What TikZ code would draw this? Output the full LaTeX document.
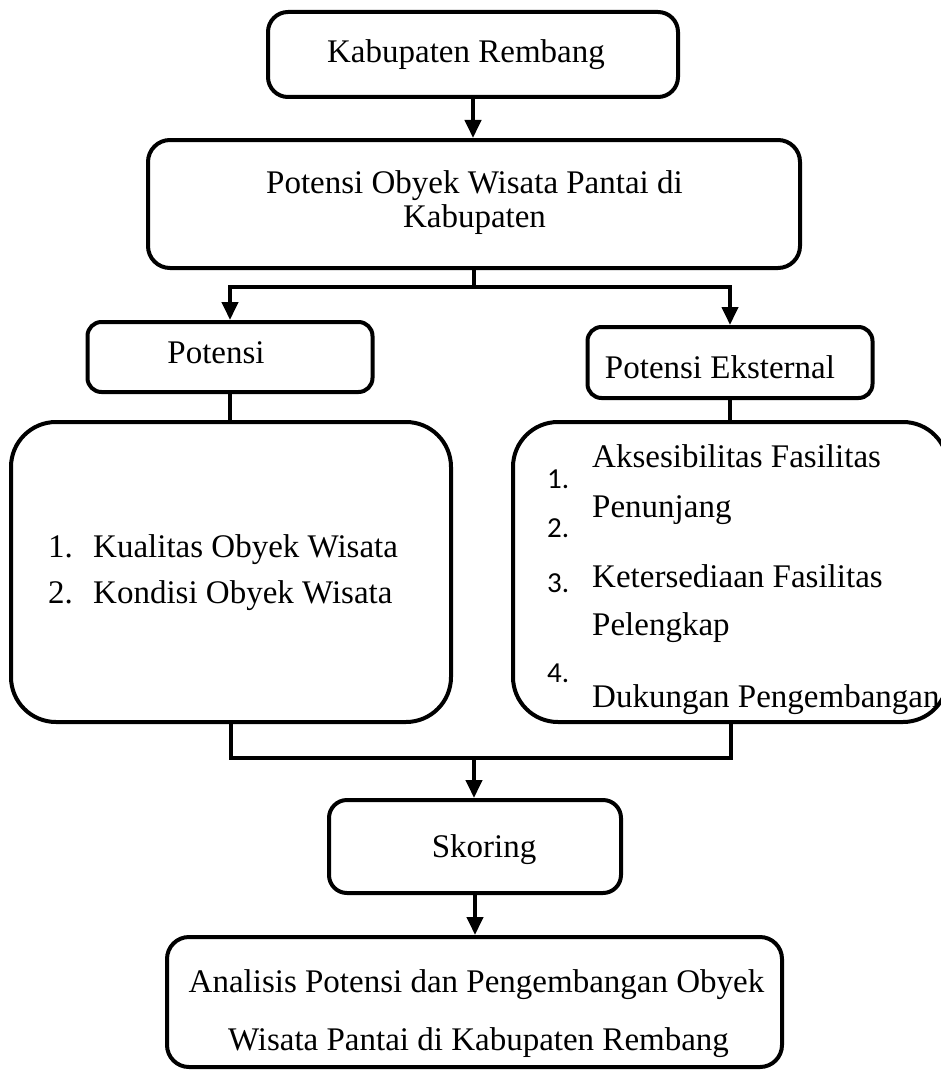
\documentclass[tikz,border=0pt]{standalone}
\usepackage{fontspec}
\setmainfont{Liberation Serif}
\newfontfamily\numfont{Carlito}
\usetikzlibrary{arrows.meta}
\begin{document}
\begin{tikzpicture}[x=1pt,y=-1pt,
  box/.style={draw=black, line width=4pt, inner sep=0pt, rectangle},
  conn/.style={line width=4pt},
  arr/.style={line width=4pt, -{Triangle[width=16pt,length=18pt]}},
  txt/.style={font=\fontsize{33}{38}\selectfont, inner sep=0pt, anchor=base},
  ltxt/.style={font=\fontsize{33}{38}\selectfont, inner sep=0pt, anchor=base west},
  num/.style={font=\numfont\fontsize{29}{32}\selectfont, inner sep=0pt, anchor=base west}]
\useasboundingbox (0,0) rectangle (940,1070);

% boxes
\node[box, rounded corners=20pt, minimum width=410pt, minimum height=85pt] (b1) at (473,54.5) {};
\node[box, rounded corners=22pt, minimum width=652pt, minimum height=128pt] (b2) at (474,204) {};
\node[box, rounded corners=14pt, minimum width=285pt, minimum height=70pt] (b3) at (230,357) {};
\node[box, rounded corners=14pt, minimum width=285pt, minimum height=71pt] (b4) at (730,362.5) {};
\node[box, rounded corners=45pt, minimum width=440pt, minimum height=300pt] (b5) at (231,572) {};
\node[box, rounded corners=45pt, minimum width=435pt, minimum height=300pt] (b6) at (730.5,572) {};
\node[box, rounded corners=18pt, minimum width=292pt, minimum height=93pt] (skor) at (475,846.5) {};
\node[box, rounded corners=22pt, minimum width=615pt, minimum height=130pt] (fin) at (474.5,1002) {};

% texts
\node[txt] (t1) at (466,63) {Kabupaten Rembang};
\node[txt] (t2a) at (474.5,193) {Potensi Obyek Wisata Pantai di};
\node[txt] (t2b) at (474.5,227) {Kabupaten};
\node[txt] (t3) at (216,363) {Potensi};
\node[txt] (t4) at (720,378) {Potensi Eksternal};
\node[ltxt] (n51) at (48,557) {1.};
\node[ltxt] (t51) at (93,557) {Kualitas Obyek Wisata};
\node[ltxt] (n52) at (48,603) {2.};
\node[ltxt] (t52) at (93,603) {Kondisi Obyek Wisata};
\node[num] (n61) at (547,488) {1.};
\node[num] (n62) at (547,537) {2.};
\node[num] (n63) at (547,592) {3.};
\node[num] (n64) at (547,682) {4.};
\node[ltxt] (t61) at (592,467) {Aksesibilitas Fasilitas};
\node[ltxt] (t62) at (592,517) {Penunjang};
\node[ltxt] (t63) at (592,587) {Ketersediaan Fasilitas};
\node[ltxt] (t64) at (592,635) {Pelengkap};
\node[ltxt] (t65) at (592,707) {Dukungan Pengembangan};
\node[txt] (ts) at (484,857) {Skoring};
\node[txt] (tfa) at (476.5,992) {Analisis Potensi dan Pengembangan Obyek};
\node[txt] (tfb) at (478.5,1050) {Wisata Pantai di Kabupaten Rembang};

% connectors
\coordinate (j1) at (474,287);
\coordinate (j2) at (474,758);
\draw[arr] (b1.south) -- (b1.south |- b2.north);
\draw[conn] (b2.south) -- (j1);
\draw[arr] (j1) -| (b3.north);
\draw[arr] (j1) -| (b4.north);
\draw[conn] (b3.south) -- (b3.south |- b5.north);
\draw[conn] (b4.south) -- (b4.south |- b6.north);
\draw[conn] (b5.south) |- (j2) -| (b6.south);
\draw[arr] (j2) -- (j2 |- skor.north);
\draw[arr] (skor.south) -- (skor.south |- fin.north);
\end{tikzpicture}
\end{document}
